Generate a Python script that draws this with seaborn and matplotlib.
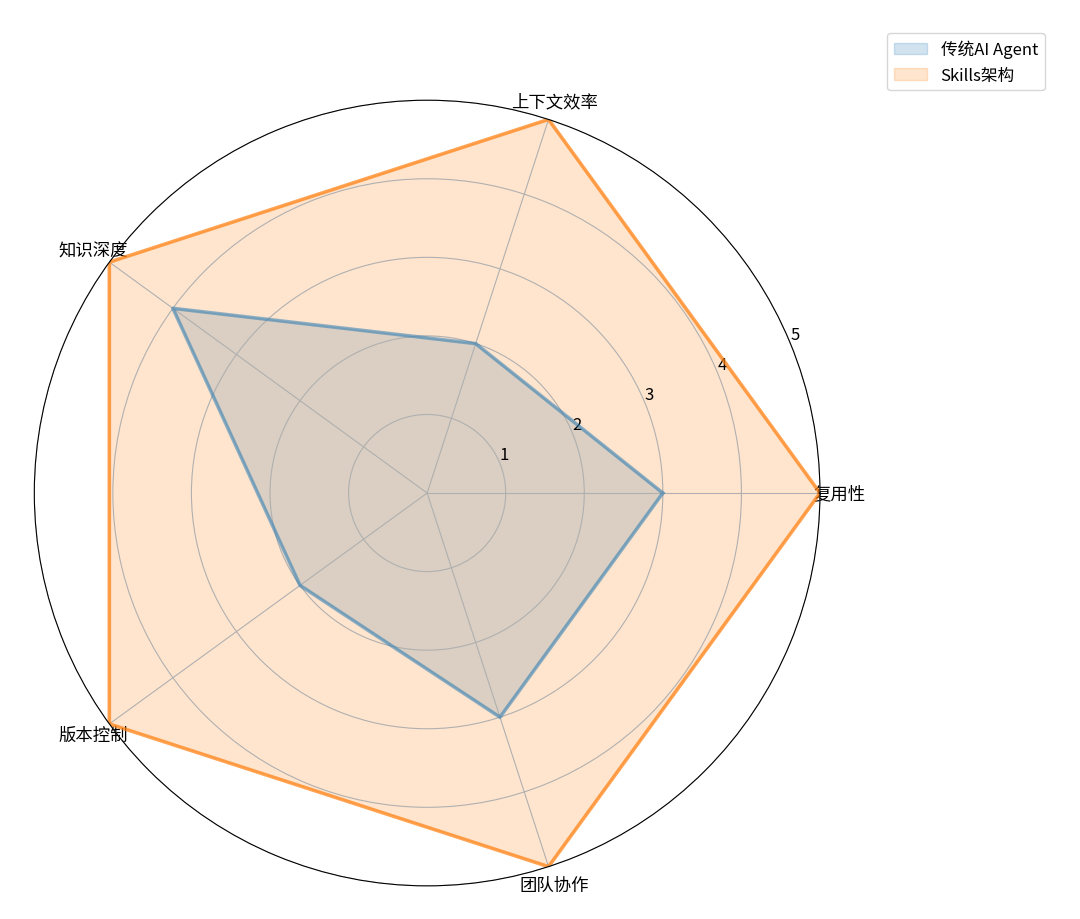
import numpy as np
import seaborn as sns
import matplotlib.pyplot as plt

# data
categories = ['复用性', '上下文效率', '知识深度', '版本控制', '团队协作']
traditional = [3, 2, 4, 2, 3]
skills = [5, 5, 5, 5, 5]
series_names = ['传统AI Agent', 'Skills架构']

plt.rcParams['font.family'] = ['Noto Sans CJK SC', 'DejaVu Sans']
plt.rcParams['axes.unicode_minus'] = False

palette = sns.color_palette('tab10')

n = len(categories)
angles = np.linspace(0, 2 * np.pi, n, endpoint=False).tolist()
angles_closed = angles + [2 * np.pi]

fig = plt.figure(figsize=(10.8, 9.2), dpi=100)
ax = fig.add_axes([0.0315, 0.036, 0.728, 0.854], polar=True)

line_alpha = [0.5, 0.7]
for vals, name, color, la in zip([traditional, skills], series_names, palette[:2], line_alpha):
    v = vals + vals[:1]
    sns.lineplot(x=angles_closed, y=v, ax=ax, sort=False, estimator=None,
                 color=color, linewidth=2.6, alpha=la, legend=False)
    ax.fill(angles_closed, v, color=color, alpha=0.2, label=name)

ax.set_xticks(angles)
ax.set_xticklabels(categories, fontsize=12.5)
ax.set_ylim(0, 5)
ax.set_yticks([1, 2, 3, 4, 5])
ax.set_yticklabels(['1', '2', '3', '4', '5'], fontsize=12)
ax.set_xlabel('')
ax.set_ylabel('')

fig.legend(loc='upper right', bbox_to_anchor=(0.975, 0.972), fontsize=12)

fig.savefig('out.png', dpi=100)
